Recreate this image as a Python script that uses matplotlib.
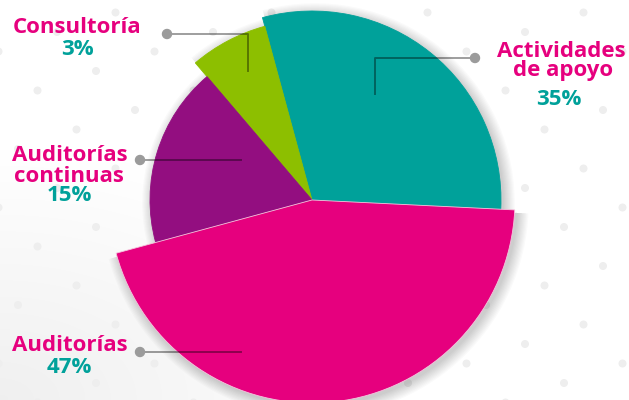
import numpy as np
import matplotlib.pyplot as plt
from matplotlib.patches import Wedge, Circle

# Slice data (shares as drawn, printed labels as shown)
categories = ["Actividades de apoyo", "Consultoría", "Auditorías continuas", "Auditorías"]
shares = [30, 7, 18, 45]
pct_labels = ["35%", "3%", "15%", "47%"]
radii = [189, 180, 162, 203]
colors = ["#00A19A", "#8DBF00", "#930E80", "#E6007E"]

MAGENTA = "#E6007E"
TEAL = "#00A19A"
FONT = "Open Sans"

fig = plt.figure(figsize=(6.29, 4), dpi=100)
ax = fig.add_axes([0, 0, 1, 1])
ax.set_xlim(0, 629)
ax.set_ylim(0, 400)
ax.set_aspect("equal")
ax.axis("off")

# soft grey shading in the lower left corner
yy, xx = np.mgrid[0:400, 0:629]
d = np.hypot(xx / 629, yy / 400)
shade = np.clip(1 - d * 1.6, 0, 1) * 0.06
img = np.ones((400, 629, 3)) - shade[..., None]
ax.imshow(img, extent=(0, 629, 0, 400), origin="lower", zorder=0)

# decorative dot lattice
for i in range(-20, 20):
    for j in range(-20, 20):
        x = 525 + i * 39 + j * 58.5
        y = 56 + i * -39 + j * 19.5
        if -5 < x < 635 and -5 < y < 405:
            ax.add_patch(Circle((x, y), 4, color="#EEEEEE", zorder=1, lw=0))

cx, cy = 312, 200
start = -2.8
angles = []
a = start
for s in shares:
    span = s / sum(shares) * 360
    angles.append((a, a + span))
    a += span

# shadows
for (t1, t2), r in zip(angles, radii):
    for k in range(10):
        ax.add_patch(Wedge((cx + 3, cy - 3), r + k * 1.2, t1, t2,
                           color="black", alpha=0.018, lw=0, zorder=2))

for (t1, t2), r, c in zip(angles, radii, colors):
    ax.add_patch(Wedge((cx, cy), r, t1, t2, facecolor=c,
                       edgecolor="#F4C6DD" if c == MAGENTA else c,
                       lw=0.6, zorder=3))

# leader lines
line_kw = dict(color="black", alpha=0.38, lw=1.4, zorder=4)
dot_kw = dict(color="#9B9B9B", zorder=5)
ax.plot([475, 375, 375], [342, 342, 306], **line_kw)
ax.add_patch(Circle((475, 342), 4.5, **dot_kw))
ax.plot([167, 248, 248], [366, 366, 329], **line_kw)
ax.add_patch(Circle((167, 366), 4.5, **dot_kw))
ax.plot([140, 241], [240, 240], **line_kw)
ax.add_patch(Circle((140, 240), 4.5, **dot_kw))
ax.plot([140, 241], [48, 48], **line_kw)
ax.add_patch(Circle((140, 48), 4.5, **dot_kw))

tkw = dict(ha="center", va="baseline", fontsize=16, fontweight="bold",
           family=FONT, zorder=6)
# Actividades de apoyo
ax.text(561, 400 - 57, "Actividades", color=MAGENTA, **tkw)
ax.text(563, 400 - 76, "de apoyo", color=MAGENTA, **tkw)
ax.text(559, 400 - 105, pct_labels[0], color=TEAL, **tkw)
# Consultoría
ax.text(77, 400 - 33, categories[1], color=MAGENTA, **tkw)
ax.text(77, 400 - 55, pct_labels[1], color=TEAL, **tkw)
# Auditorías continuas
ax.text(70, 400 - 161, "Auditorías", color=MAGENTA, **tkw)
ax.text(69, 400 - 182, "continuas", color=MAGENTA, **tkw)
ax.text(69, 400 - 201, pct_labels[2], color=TEAL, **tkw)
# Auditorías
ax.text(70, 400 - 351, categories[3], color=MAGENTA, **tkw)
ax.text(69, 400 - 373, pct_labels[3], color=TEAL, **tkw)

fig.savefig("out.png", dpi=100)
